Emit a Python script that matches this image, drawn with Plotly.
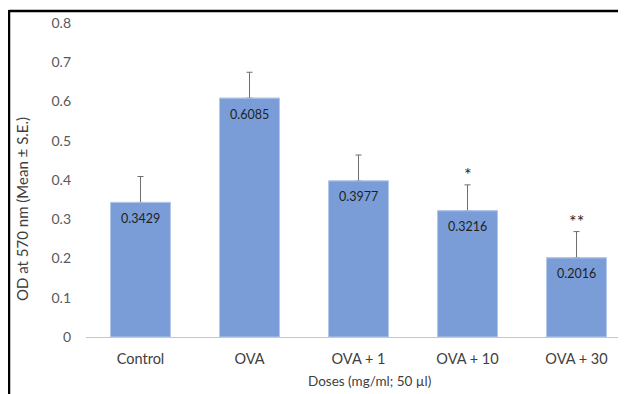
import plotly.graph_objects as go

categories = ["Control", "OVA", "OVA + 1", "OVA + 10", "OVA + 30"]
means = [0.3429, 0.6085, 0.3977, 0.3216, 0.2016]
errors = [0.066, 0.066, 0.066, 0.066, 0.067]
signif = ["", "", "", "*", "**"]
value_labels = ["0.3429", "0.6085", "0.3977", "0.3216", "0.2016"]
y_ticks = [0, 0.1, 0.2, 0.3, 0.4, 0.5, 0.6, 0.7, 0.8]

# page body has an 8px margin; figure coordinates are page pixels minus 8
OFF = 8
W, H = 626 - OFF, 394 - OFF
L, R, T, B = 86 - OFF, 626 - OFF, 23 - OFF, 337 - OFF

def px_x(px):
    return (px - OFF - L) / (R - L)

def px_y(py):
    return (B - (py - OFF)) / (B - T)

FONT = "Lato"
BAR_COLOR = "#7A9DD8"
BAR_LINE = dict(color="#B4C8EC", width=1)

fig = go.Figure()
# bars carrying the (plus-only) error bars
fig.add_trace(go.Bar(
    x=list(range(len(categories))),
    y=means,
    width=0.55,
    marker=dict(color=BAR_COLOR, line=BAR_LINE),
    error_y=dict(type="data", array=errors, arrayminus=[0] * len(errors),
                 symmetric=False, color="#6E6E6E", thickness=1, width=3),
    hoverinfo="skip",
))
# identical bars on top, hiding the lower cap of each error bar
fig.add_trace(go.Bar(
    x=list(range(len(categories))),
    y=means,
    width=0.55,
    marker=dict(color=BAR_COLOR, line=BAR_LINE),
    hoverinfo="skip",
))

annotations = []
for i, s in enumerate(signif):
    annotations.append(dict(
        x=i, y=means[i], xref="x", yref="y",
        text=value_labels[i], showarrow=False, yanchor="middle", yshift=-16,
        font=dict(family=FONT, size=12.5, color="#1F1F1F"),
    ))
    if s:
        annotations.append(dict(
            x=i, y=means[i] + errors[i], xref="x", yref="y",
            text=s, showarrow=False, yanchor="bottom", yshift=-2,
            font=dict(family=FONT, size=18, color="#1F1F1F"),
        ))

annotations.append(dict(
    x=px_x(369), y=px_y(381), xref="paper", yref="paper",
    text="Doses (mg/ml; 50 µl)", showarrow=False,
    xanchor="center", yanchor="middle",
    font=dict(family=FONT, size=13.5, color="#404040"),
))
annotations.append(dict(
    x=px_x(22), y=px_y(209), xref="paper", yref="paper",
    text="OD at 570 nm (Mean ± S.E.)", showarrow=False, textangle=-90,
    xanchor="center", yanchor="middle",
    font=dict(family=FONT, size=15, color="#404040"),
))

shapes = [
    dict(type="line", xref="paper", yref="paper",
         x0=px_x(9), x1=px_x(640), y0=px_y(11), y1=px_y(11),
         line=dict(color="black", width=2.5)),
    dict(type="line", xref="paper", yref="paper",
         x0=px_x(9), x1=px_x(9), y0=px_y(10), y1=px_y(400),
         line=dict(color="black", width=2.5)),
]

fig.update_layout(
    width=W, height=H,
    margin=dict(l=L, r=W - R, t=T, b=H - B, pad=0),
    paper_bgcolor="white", plot_bgcolor="white",
    showlegend=False,
    barmode="overlay",
    annotations=annotations,
    shapes=shapes,
    xaxis=dict(
        range=[-0.5, 4.454], tickmode="array",
        tickvals=list(range(len(categories))), ticktext=categories,
        showline=True, linecolor="#C8C8C8", linewidth=1,
        showgrid=False, zeroline=False, ticks="",
        tickfont=dict(family=FONT, size=14.5, color="#404040"),
        ticklabelstandoff=9,
    ),
    yaxis=dict(
        range=[0, 0.8], tickmode="array", tickvals=y_ticks,
        ticktext=[("%g" % v) for v in y_ticks],
        showline=False, showgrid=False, zeroline=False, ticks="",
        tickfont=dict(family=FONT, size=14, color="#595959"),
        ticklabelstandoff=14,
    ),
)

fig.write_html("out.html")
